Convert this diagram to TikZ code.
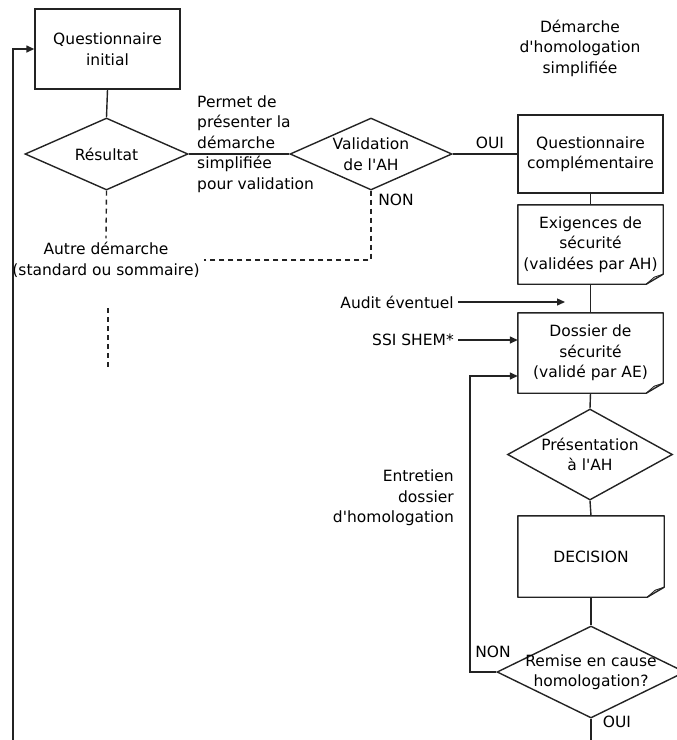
\documentclass[tikz,border=0pt]{standalone}
\usepackage{fontspec}
\setmainfont{DejaVu Sans}[Ligatures=TeXOff]
\usetikzlibrary{arrows.meta, shapes.geometric}
\definecolor{trait}{RGB}{35,35,35}

\begin{document}
\begin{tikzpicture}[x=1pt, y=-1pt,
          every node/.style={font=\fontsize{15.5}{20.5}\selectfont},
          etape/.style={rectangle, draw=trait, line width=1.4pt, minimum width=145pt, minimum height=80pt,
            align=center, inner sep=2pt},
          doc/.style={rectangle, draw=none, minimum width=145pt, minimum height=80pt, align=center},
          choix/.style={diamond, draw=trait, line width=1.4pt, aspect=2.25, inner sep=0pt, align=center},
          note/.style={align=center, inner sep=4pt},
          lien/.style={-, line width=1.4pt, trait},
          fleche/.style={-{Triangle[length=8pt,width=7pt]}, line width=1.4pt, trait},
          alt/.style={lien, dash pattern=on 5pt off 4pt}]
        \useasboundingbox (0,0) rectangle (677,740);
        \node[etape] (qinit) at (107.5,49) {Questionnaire\\initial};
        \node[choix, minimum width=163pt, minimum height=72pt] (res) at (106.5,154) {Résultat};
        \node[choix, minimum width=162pt, minimum height=72pt] (val) at (371,154) {Validation\\de l'AH};
        \node[etape, minimum height=78pt] (qcomp) at (590.5,154) {Questionnaire\\complémentaire};
        \node[doc, minimum height=79pt] (exig) at (590.5,244.5) {Exigences de\\sécurité\\(validées par AH)};
        \node[doc] (dossier) at (590.5,353) {Dossier de\\sécurité\\(validé par AE)};
        \node[choix, aspect=1.81, minimum width=165pt, minimum height=91pt] (pres) at (590,454.5) {Présentation\\à l'AH};
        \node[doc, minimum width=146pt, minimum height=81pt] (decision) at (591,556.5) {DECISION};
        \node[choix, aspect=2.04, inner xsep=-20pt, minimum width=188pt, minimum height=92pt] (remise) at (591,672) {Remise en cause\\homologation?};
        % textes libres
        \node[note, anchor=west, align=left] (permet) at (193,144) {Permet de\\présenter la\\démarche\\simplifiée\\pour validation};
        \node[note] (oui1) at (490,143) {OUI};
        \node[note] (non1) at (396,200) {NON};
        \node[note] (autre) at (106,260) {Autre démarche\\(standard ou sommaire)};
        \node[note] (titre) at (580,48) {Démarche\\d'homologation\\simplifiée};
        \node[note, anchor=east] (audit) at (458,302) {Audit éventuel};
        \node[note, anchor=east] (ssi) at (458,340) {SSI SHEM*};
        \node[note, anchor=east, align=right] (entretien) at (458,498) {Entretien\\dossier\\d'homologation};
        \node[note] (non2) at (493,652) {NON};
        \node[note] (oui2) at (617,722) {OUI};
        \coordinate (bas) at (13,740);
        \coordinate (fin) at (591,740);
        \coordinate (auditfin) at (565,302);
        \coordinate (retour) at (470,376);
        \coordinate (suiteA) at (108,308);
        \coordinate (suiteB) at (108,370);
        \foreach \a/\b in {qinit.south/res.north, res.east/val.west, val.east/qcomp.west, qcomp.south/exig.north,
            exig.south/dossier.north, dossier.south/pres.north, pres.south/decision.north,
            decision.south/remise.north, remise.south/fin}{\draw[lien] (\a)--(\b);}
        % documents a coin plie
        \foreach \d in {exig,dossier,decision}{
          \draw[lien, line join=round] (\d.north west) -- (\d.north east) -- ([yshift=10pt]\d.south east)
            -- ([xshift=-17pt]\d.south east) -- (\d.south west) -- cycle;
          \draw[lien, line width=0.9pt] ([xshift=-17pt]\d.south east) -- ([xshift=-9pt,yshift=7pt]\d.south east)
            -- ([yshift=10pt]\d.south east);
        }
        \draw[fleche] (bas) |- (qinit.west);
        \draw[fleche] (audit.east) -- (auditfin);
        \draw[fleche] (ssi.east) -- (ssi.east -| dossier.west);
        \draw[fleche] (remise.west) -| (retour) -- (retour -| dossier.west);
        \draw[alt] (res.south) -- (autre.north);
        \draw[alt] (val.south) |- (autre.east);
        \draw[alt] (suiteA) -- (suiteB);
      \end{tikzpicture}
\end{document}
